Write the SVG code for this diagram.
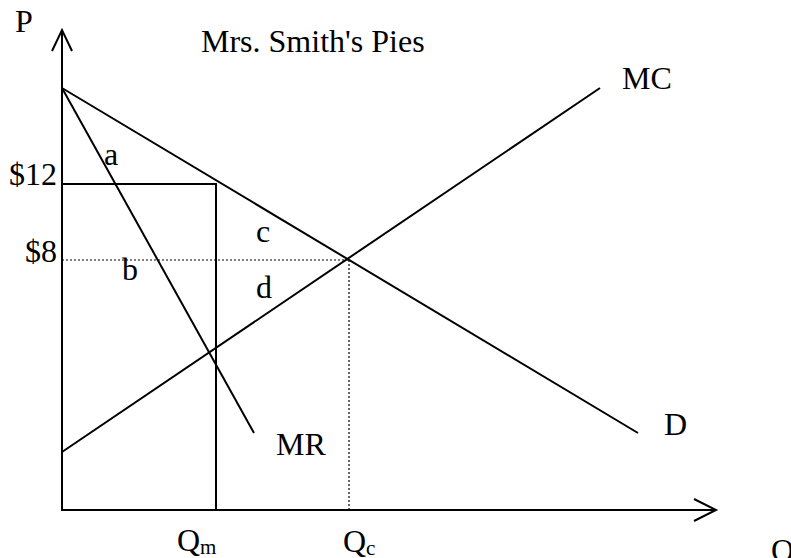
<svg xmlns="http://www.w3.org/2000/svg" width="791" height="558" viewBox="0 0 791 558">
<style>
.ln{stroke:#000;stroke-width:2;fill:none;stroke-linecap:butt}
.ax{stroke:#000;stroke-width:2;fill:none}
.dot{stroke:#000;stroke-width:1.2;fill:none;stroke-dasharray:2 2}
text{font-family:"Liberation Serif","Times New Roman",serif;font-size:32px;fill:#000}
.sub{font-size:21px}
</style>
<rect width="791" height="558" fill="#fff"/>
<g id="axes">
<line class="ax" x1="62" y1="30" x2="62" y2="511"/>
<polyline class="ax" points="52,51 62,30 72,51"/>
<line class="ax" x1="61" y1="510" x2="716" y2="510"/>
<polyline class="ax" points="694,499 716,510 694,521"/>
</g>
<g id="connectors">
<line id="demand" class="ln" x1="62" y1="88" x2="638" y2="433"/>
<line id="mr" class="ln" x1="62" y1="88" x2="254" y2="433"/>
<line id="mc" class="ln" x1="62" y1="452" x2="600" y2="88"/>
<polyline id="monopoly" class="ln" points="62,184 216,184 216,510"/>
<line id="p8" class="dot" x1="62" y1="260" x2="349" y2="260"/>
<line id="qc" class="dot" x1="349" y1="260" x2="349" y2="510"/>
</g>
<g id="labels">
<text x="15" y="32">P</text>
<text x="201" y="52">Mrs. Smith's Pies</text>
<text x="9" y="185">$12</text>
<text x="25" y="262">$8</text>
<text x="104" y="165">a</text>
<text x="122" y="280">b</text>
<text x="256" y="242">c</text>
<text x="256" y="298">d</text>
<text x="622" y="89">MC</text>
<text x="664" y="435">D</text>
<text x="276" y="455">MR</text>
<text x="177" y="551">Q<tspan class="sub" dy="3">m</tspan></text>
<text x="343" y="552">Q<tspan class="sub" dy="3">c</tspan></text>
<text x="771" y="561">Q</text>
</g>
</svg>
